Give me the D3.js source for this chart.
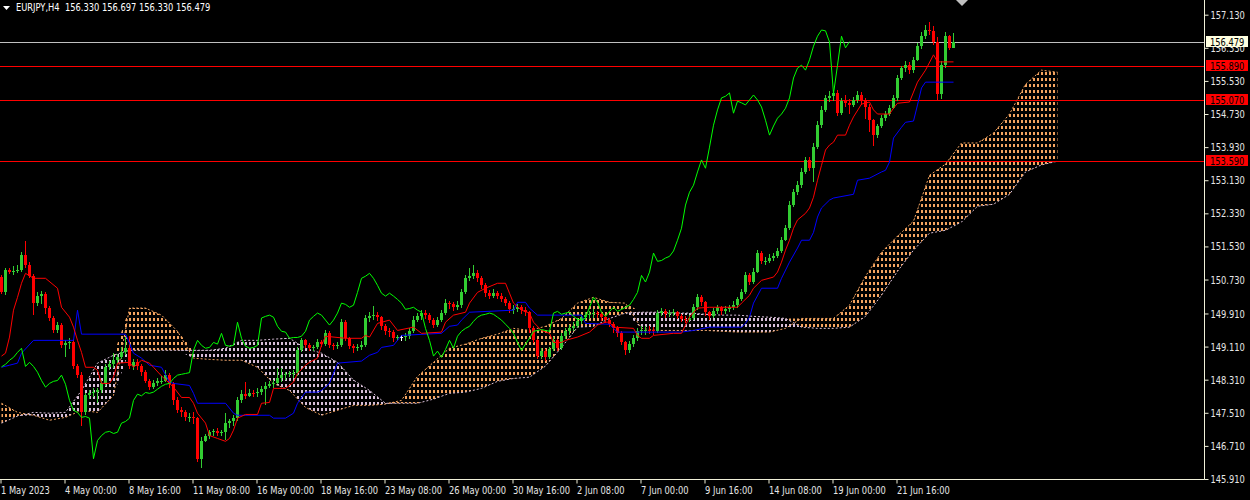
<!DOCTYPE html>
<html>
<head>
<meta charset="utf-8">
<script src="https://cdn.jsdelivr.net/npm/d3@7"></script>
<style>
  html, body { margin: 0; padding: 0; background: #000; }
  svg { display: block; }
  text { font-family: "Liberation Sans Narrow", "DejaVu Sans Condensed", "Liberation Sans", sans-serif; font-size: 11px; }
</style>
</head>
<body>
<div id="chart"></div>
<script>
// EURJPY H4 with Ichimoku, 1 May - 26 Jun 2023

const header = "EURJPY,H4  156.330 156.697 156.330 156.479";
const firstOpen = 150.79;

// closes per H4 bar (bar 0 = 1 May 08:00)
const closes = [
  150.43,150.96,150.91,150.93,150.96,151.32,151.08,150.81,150.16,150.33,
  150.38,150.04,149.80,149.50,149.63,149.14,149.19,149.22,148.63,148.42,
  147.52,147.93,147.98,148.01,148.05,148.22,148.62,148.68,148.78,148.85,
  148.97,149.07,148.63,148.73,148.63,148.49,148.29,148.13,148.22,148.27,
  148.29,148.42,148.20,147.81,147.57,147.52,147.40,147.42,147.38,146.40,
  146.84,146.96,147.04,147.06,147.01,147.04,147.26,147.30,147.38,147.81,
  147.96,147.92,148.00,147.98,148.01,148.08,148.15,148.20,148.22,148.34,
  148.42,148.44,148.46,148.48,149.02,149.26,149.14,149.07,149.09,149.21,
  149.17,149.43,149.14,149.12,149.14,149.70,149.31,149.12,149.07,149.09,
  149.14,149.80,149.84,149.87,149.82,149.60,149.48,149.46,149.31,149.33,
  149.33,149.36,149.48,149.75,149.84,149.92,149.87,149.75,149.63,149.75,
  149.92,150.16,150.13,150.06,150.11,150.42,150.76,150.81,150.88,150.76,
  150.59,150.40,150.33,150.40,150.33,150.25,150.16,150.01,150.03,150.06,
  149.99,149.94,149.55,149.26,148.88,149.00,148.85,149.04,149.26,149.07,
  149.36,149.48,149.55,149.60,149.72,149.82,149.87,149.89,149.92,149.89,
  149.82,149.75,149.65,149.55,149.43,149.21,149.02,149.17,149.31,149.48,
  149.50,149.52,149.50,149.48,149.92,149.96,149.89,149.92,149.94,149.84,
  149.77,149.75,149.80,150.06,150.30,150.18,149.94,149.84,149.96,150.06,
  149.96,150.01,150.06,150.11,150.25,150.42,150.83,150.67,150.91,151.37,
  151.17,151.19,151.25,151.29,151.42,151.68,151.97,152.53,152.84,153.01,
  153.33,153.62,153.42,153.93,154.46,154.83,155.12,155.16,155.24,154.75,
  155.04,155.00,154.95,155.07,155.19,155.07,154.90,154.58,154.22,154.44,
  154.63,154.73,154.87,155.12,155.60,155.84,155.91,155.79,156.04,156.37,
  156.61,156.76,156.74,156.47,155.22,155.91,156.61,156.33,156.479
];

const highs = [
  150.84,151.00,151.02,151.05,151.08,151.40,151.65,151.16,150.86,150.42,
  150.45,150.44,150.08,149.86,149.70,149.68,149.26,149.32,149.30,148.70,
  148.50,147.98,148.05,148.10,148.12,148.30,148.68,148.75,148.95,148.92,
  149.10,149.35,149.37,148.80,148.80,148.70,148.55,148.33,148.30,148.35,
  148.40,148.55,148.48,148.25,147.88,147.65,147.58,147.50,147.52,147.42,
  146.92,147.00,147.10,147.12,147.14,147.10,147.50,147.35,147.45,147.90,
  148.05,148.25,148.08,148.05,148.10,148.15,148.25,148.28,148.30,148.60,
  148.60,148.50,148.52,148.55,149.10,149.32,149.30,149.20,149.15,149.30,
  149.28,149.50,149.48,149.20,149.22,149.78,149.75,149.35,149.18,149.18,
  149.25,149.88,149.95,150.08,149.95,149.85,149.65,149.55,149.50,149.40,
  149.40,149.45,149.55,149.85,149.92,150.00,150.00,149.92,149.80,149.82,
  150.00,150.25,150.22,150.18,150.20,150.50,150.85,151.02,151.08,150.95,
  150.82,150.65,150.48,150.50,150.45,150.40,150.30,150.20,150.12,150.15,
  150.12,150.06,149.98,149.60,149.30,149.08,149.05,149.10,149.35,149.30,
  149.45,149.55,149.62,149.70,149.80,149.90,149.95,149.98,150.02,149.98,
  149.95,149.88,149.80,149.70,149.60,149.48,149.25,149.25,149.40,149.55,
  149.60,149.60,149.60,149.58,150.00,150.05,150.02,150.00,150.02,149.98,
  149.90,149.85,149.88,150.15,150.38,150.35,150.22,149.98,150.05,150.12,
  150.10,150.08,150.12,150.20,150.32,150.50,150.92,150.88,151.00,151.45,
  151.42,151.28,151.35,151.38,151.50,151.75,152.05,152.62,152.92,153.10,
  153.42,153.70,153.68,154.02,154.55,154.92,155.20,155.28,155.32,155.30,
  155.12,155.18,155.10,155.15,155.28,155.25,155.12,154.98,154.62,154.50,
  154.70,154.80,154.95,155.20,155.68,155.90,156.00,155.98,156.10,156.45,
  156.70,156.88,156.95,156.85,156.60,156.00,156.70,156.65,156.697
];

const lows = [
  150.38,150.35,150.86,150.85,150.88,150.92,151.02,150.76,149.87,150.10,
  150.15,149.90,149.74,149.45,149.44,149.08,148.86,149.05,148.58,148.36,
  147.18,147.45,147.85,147.90,147.74,147.98,148.15,148.55,148.60,148.70,
  148.80,148.90,148.58,148.55,148.55,148.40,148.22,148.05,148.08,148.15,
  148.20,148.25,148.10,147.70,147.50,147.40,147.30,147.28,147.25,146.31,
  146.17,146.80,146.88,146.95,146.95,146.95,146.85,147.15,147.20,147.30,
  147.75,147.85,147.88,147.88,147.90,147.95,147.70,148.10,148.12,148.20,
  148.25,148.30,148.38,148.35,148.40,148.98,149.08,149.00,149.00,149.05,
  149.10,149.12,149.08,149.02,149.05,149.10,149.25,149.05,148.95,149.00,
  149.02,149.10,149.70,149.75,149.72,149.52,149.40,149.35,149.22,149.25,
  149.25,149.25,149.30,149.45,149.70,149.75,149.78,149.68,149.55,149.58,
  149.70,149.88,150.02,149.98,150.00,150.05,150.38,150.70,150.75,150.68,
  150.50,150.32,150.25,150.28,150.25,150.18,150.08,149.92,149.90,149.95,
  149.90,149.85,149.45,149.20,148.80,148.80,148.75,148.80,149.00,149.00,
  149.02,149.30,149.40,149.48,149.55,149.65,149.75,149.78,149.80,149.80,
  149.72,149.68,149.58,149.45,149.35,149.15,148.90,148.95,149.10,149.25,
  149.40,149.40,149.42,149.40,149.45,149.85,149.80,149.82,149.85,149.78,
  149.70,149.68,149.70,149.75,150.00,150.10,149.85,149.75,149.80,149.90,
  149.88,149.90,149.95,150.00,150.05,150.20,150.38,150.60,150.62,150.88,
  151.10,151.08,151.12,151.18,151.25,151.38,151.65,151.92,152.48,152.78,
  152.95,153.28,153.35,153.08,153.88,154.40,154.78,155.02,155.05,154.68,
  154.70,154.90,154.72,154.90,155.00,154.95,154.60,154.30,153.95,154.15,
  154.38,154.55,154.68,154.85,155.05,155.55,155.75,155.70,155.72,156.00,
  156.30,156.55,156.65,156.40,155.05,155.10,155.85,156.28,156.33
];

// Tenkan-sen and Kijun-sen read at their turning points: [bar, price]
const tenkan = [
  [0,148.88],[1,148.95],[2,149.34],[3,149.99],[4,150.30],[5,150.64],[6,150.88],[8,150.76],[11,150.76],
  [14,150.52],[15,150.06],[17,149.82],[18,149.58],[19,149.26],[20,148.97],[21,148.61],[23,148.61],
  [24,148.54],[25,148.22],[27,148.22],[28,148.37],[29,148.71],[32,148.73],[33,148.61],[35,148.78],
  [37,148.71],[38,148.61],[40,148.40],[43,148.13],[45,147.88],[47,147.88],[48,147.74],[49,147.50],
  [51,147.26],[52,146.96],[54,146.89],[56,146.82],[57,146.89],[58,147.09],[59,147.38],[61,147.47],
  [64,147.47],[65,147.74],[67,147.76],[68,148.10],[71,148.10],[73,148.25],[74,148.46],[76,148.66],
  [77,148.73],[79,148.83],[80,149.14],[81,149.36],[86,149.31],[90,149.31],[91,149.38],[92,149.34],
  [94,149.67],[97,149.75],[99,149.50],[103,149.58],[105,149.43],[110,149.46],[111,149.70],[113,149.87],
  [116,149.94],[117,150.16],[119,150.42],[121,150.52],[124,150.64],[126,150.64],[127,150.40],[128,150.16],
  [130,149.99],[132,149.92],[133,149.70],[135,149.50],[137,149.43],[138,149.21],[140,149.21],[141,149.26],
  [144,149.34],[147,149.46],[149,149.63],[151,149.70],[152,149.70],[153,149.58],[158,149.55],[159,149.38],
  [160,149.31],[162,149.31],[163,149.38],[168,149.43],[170,149.43],[171,149.63],[172,149.82],[174,150.04],
  [177,150.06],[184,150.06],[185,150.16],[187,150.35],[188,150.52],[190,150.71],[193,150.79],[194,150.91],
  [195,151.15],[196,151.44],[197,151.68],[198,151.97],[199,152.17],[201,152.33],[202,152.46],[203,152.72],
  [204,153.13],[205,153.49],[206,153.86],[207,153.98],[208,154.05],[209,154.22],[211,154.22],[212,154.46],
  [213,154.66],[215,154.97],[217,155.02],[218,154.83],[219,154.73],[222,154.73],[223,154.87],[224,154.99],
  [227,155.02],[228,155.26],[229,155.50],[231,155.79],[233,156.16],[234,155.99],[238,155.99]
];

const kijun = [
  [0,148.61],[2,148.66],[4,148.71],[5,148.95],[8,149.26],[18,149.26],[19,149.99],[20,149.41],[31,149.41],
  [32,149.19],[33,148.95],[35,148.83],[37,148.66],[40,148.61],[42,148.25],[43,148.22],[47,148.17],
  [48,147.98],[49,147.74],[56,147.74],[58,147.50],[59,147.45],[67,147.45],[68,147.38],[71,147.38],
  [73,147.50],[74,147.74],[76,148.01],[79,148.01],[80,148.05],[82,148.22],[84,148.71],[90,148.76],
  [92,148.90],[94,148.97],[95,149.09],[98,149.14],[100,149.38],[110,149.43],[112,149.60],[114,149.63],
  [115,149.75],[117,149.94],[128,149.99],[129,150.18],[131,150.18],[132,150.04],[134,149.87],[145,149.87],
  [146,149.67],[152,149.65],[153,149.55],[154,149.46],[170,149.46],[173,149.50],[177,149.58],[185,149.58],
  [186,149.67],[187,149.82],[188,150.16],[190,150.52],[194,150.52],[195,150.76],[197,151.15],[199,151.49],
  [200,151.68],[202,151.68],[203,151.87],[204,152.24],[205,152.46],[207,152.65],[208,152.70],[213,152.79],
  [214,153.13],[217,153.18],[220,153.33],[221,153.37],[222,153.57],[223,154.15],[225,154.41],[226,154.53],
  [228,154.56],[229,154.95],[230,155.36],[231,155.50],[238,155.50]
];

// Senkou spans read every 4 bars, bar 0 .. bar 264 (cloud runs 26 bars ahead)
const cloudStep = 4;
const spanA = [
  147.74,147.52,147.45,147.33,147.40,147.57,147.52,147.93,150.04,150.04,
  149.87,149.48,148.83,148.80,148.78,148.78,148.61,148.22,148.05,147.64,
  147.45,147.57,147.69,147.69,147.72,147.81,148.39,148.73,149.07,149.17,
  149.31,149.41,149.55,149.50,149.60,149.79,150.16,150.30,150.18,150.16,
  149.55,149.50,149.50,149.50,149.50,149.48,149.46,149.46,149.46,149.55,
  149.79,149.79,149.79,150.11,150.81,151.39,151.78,152.14,153.25,153.52,
  154.03,154.03,154.27,154.73,155.45,155.79,155.74
];
const spanB = [
  147.26,147.43,147.52,147.50,147.52,148.05,148.71,148.90,149.02,149.02,
  149.02,149.02,149.02,149.02,149.07,149.26,149.26,149.29,149.31,149.07,
  148.95,148.73,148.30,148.05,147.74,147.74,147.74,147.84,147.98,148.01,
  148.10,148.27,148.34,148.37,148.64,149.09,149.58,149.60,149.79,149.92,
  149.94,149.94,149.92,149.92,149.89,149.87,149.87,149.84,149.82,149.79,
  149.58,149.55,149.55,149.58,149.84,150.35,150.93,151.44,151.85,151.92,
  152.12,152.50,152.55,152.79,153.33,153.50,153.59
];
const chikouShift = 26;

const priceTicks = [157.13,156.33,155.53,154.73,153.93,153.13,152.33,151.53,150.73,149.91,149.11,148.31,147.51,146.71,145.91];
const timeTickBars = [0,16,32,48,64,80,96,112,128,144,160,176,192,208,224];
const timeLabels = ["1 May 2023","4 May 00:00","8 May 16:00","11 May 08:00","16 May 00:00","18 May 16:00",
  "23 May 08:00","26 May 00:00","30 May 16:00","2 Jun 08:00","7 Jun 00:00","9 Jun 16:00",
  "14 Jun 08:00","19 Jun 00:00","21 Jun 16:00"];
const levels = [155.89, 155.07, 153.59];
const lastPrice = 156.479;

(function () {
  const width = 1250, height = 500;
  const plotRight = 1204, plotBottom = 479;
  const lastCloudBar = (spanA.length - 1) * cloudStep;

  const svg = d3.select("#chart").append("svg")
    .attr("width", width)
    .attr("height", height)
    .style("background", "#000");

  const x = d3.scaleLinear().domain([0, 264]).range([1.5, 1057.5]);
  const y = d3.scaleLinear().domain([145.91, 157.13]).range([plotBottom, 14.7]);

  const bars = closes.map((c, i) => ({
    i: i, o: i ? closes[i - 1] : firstOpen, h: highs[i], l: lows[i], c: c
  }));
  const cloud = spanA.map((a, k) => ({ bar: k * cloudStep, a: a, b: spanB[k] }));
  const chikou = closes.slice(chikouShift).map((c, k) => ({ bar: k, v: c }));
  const pts = arr => arr.map(d => ({ bar: d[0], v: d[1] }));

  // cloud: dotted vertical strokes on every bar, clipped to the area between the spans
  const defs = svg.append("defs");
  defs.append("clipPath").attr("id", "cloud-up").append("path")
    .attr("d", d3.area().x(d => x(d.bar)).y0(d => y(d.b)).y1(d => y(Math.max(d.a, d.b)))(cloud));
  defs.append("clipPath").attr("id", "cloud-dn").append("path")
    .attr("d", d3.area().x(d => x(d.bar)).y0(d => y(Math.min(d.a, d.b))).y1(d => y(d.b))(cloud));

  const grid = d3.range(0, lastCloudBar + 1).map(b => `M${x(b)},0V${plotBottom}`).join("");
  [["cloud-up", "#f4a460"], ["cloud-dn", "#d8bfd8"]].forEach(([id, col]) => {
    svg.append("g").attr("clip-path", `url(#${id})`)
      .append("path")
      .attr("d", grid)
      .attr("fill", "none")
      .attr("stroke", col)
      .attr("stroke-width", 2)
      .attr("stroke-dasharray", "3,3")
      .attr("shape-rendering", "crispEdges");
  });

  svg.append("path")
    .attr("d", d3.line().x(d => x(d.bar)).y(d => y(d.a))(cloud))
    .attr("fill", "none").attr("stroke", "#f4a460").attr("stroke-dasharray", "2,2");
  svg.append("path")
    .attr("d", d3.line().x(d => x(d.bar)).y(d => y(d.b))(cloud))
    .attr("fill", "none").attr("stroke", "#d8bfd8").attr("stroke-dasharray", "2,2");

  // level lines
  svg.selectAll(".level")
    .data(levels)
    .join("line")
    .attr("class", "level")
    .attr("x1", 0).attr("x2", plotRight)
    .attr("y1", d => Math.round(y(d)) + 0.5).attr("y2", d => Math.round(y(d)) + 0.5)
    .attr("stroke", "#ff0000");
  svg.append("line")
    .attr("x1", 0).attr("x2", plotRight)
    .attr("y1", Math.round(y(lastPrice)) + 0.5).attr("y2", Math.round(y(lastPrice)) + 0.5)
    .attr("stroke", "#c0c0c0");

  // candles
  const colour = d => d.c > d.o ? "#32cd32" : (d.c < d.o ? "#ff0000" : "#ffffff");
  const cg = svg.append("g").attr("shape-rendering", "crispEdges");
  cg.selectAll("line")
    .data(bars)
    .join("line")
    .attr("x1", d => x(d.i)).attr("x2", d => x(d.i))
    .attr("y1", d => y(d.h)).attr("y2", d => y(d.l))
    .attr("stroke", colour);
  cg.selectAll("rect")
    .data(bars)
    .join("rect")
    .attr("x", d => x(d.i) - 1.5)
    .attr("width", 3)
    .attr("y", d => y(Math.max(d.o, d.c)))
    .attr("height", d => Math.max(1, y(Math.min(d.o, d.c)) - y(Math.max(d.o, d.c))))
    .attr("fill", colour);

  // Ichimoku lines
  const line = d3.line().x(d => x(d.bar)).y(d => y(d.v));
  svg.append("path").attr("d", line(pts(kijun)))
    .attr("fill", "none").attr("stroke", "#0000ff");
  svg.append("path").attr("d", line(pts(tenkan)))
    .attr("fill", "none").attr("stroke", "#ff0000");
  svg.append("path").attr("d", line(chikou))
    .attr("fill", "none").attr("stroke", "#00ff00");

  // axes
  svg.append("path")
    .attr("d", `M0,${plotBottom + 0.5}H${plotRight + 0.5}V0`)
    .attr("fill", "none").attr("stroke", "#f0f0d8");

  const yAxis = svg.append("g")
    .attr("transform", `translate(${plotRight + 0.5},0)`)
    .call(d3.axisRight(y).tickValues(priceTicks).tickSize(4).tickSizeOuter(0)
      .tickFormat(d3.format(".3f")));
  yAxis.attr("font-family", null).attr("font-size", null);
  yAxis.select(".domain").remove();
  yAxis.selectAll("line").attr("stroke", "#f0f0d8");
  yAxis.selectAll("text").attr("fill", "#e6e6e6").attr("x", 6);

  const xAxis = svg.append("g")
    .attr("transform", `translate(-1,${plotBottom + 0.5})`)
    .call(d3.axisBottom(x).tickValues(timeTickBars).tickSize(4).tickSizeOuter(0)
      .tickFormat((d, i) => timeLabels[i]));
  xAxis.attr("font-family", null).attr("font-size", null);
  xAxis.select(".domain").remove();
  xAxis.selectAll("line").attr("stroke", "#f0f0d8");
  xAxis.selectAll("text").attr("fill", "#e6e6e6").attr("text-anchor", "start")
    .attr("x", 0).attr("y", 7).attr("dy", "0.71em");

  // price labels on the right scale
  const tags = [{ v: lastPrice, bg: "#ffffe0" }].concat(levels.map(v => ({ v: v, bg: "#ff0000" })));
  const tg = svg.selectAll(".tag").data(tags).join("g")
    .attr("class", "tag")
    .attr("transform", d => `translate(${plotRight + 2},${Math.round(y(d.v))})`);
  tg.append("rect").attr("x", 0).attr("y", -6).attr("width", 42).attr("height", 11)
    .attr("fill", d => d.bg);
  tg.append("text").attr("x", 4).attr("y", 4).attr("fill", "#000")
    .text(d => d3.format(".3f")(d.v));

  // header
  svg.append("path").attr("d", "M3,6H10L6.5,10Z").attr("fill", "#ffffff");
  svg.append("text").attr("x", 16).attr("y", 11).attr("fill", "#ffffff")
    .style("white-space", "pre").text(header);

  // chart shift marker
  svg.append("path").attr("d", "M956,0H968L962,6Z").attr("fill", "#c0c0c0");

  // terminal font is narrower than the installed ones: squeeze every label
  svg.selectAll("text").each(function () {
    const w = this.getComputedTextLength();
    d3.select(this).attr("textLength", w * 0.84).attr("lengthAdjust", "spacingAndGlyphs");
  });
})();
</script>
</body>
</html>
